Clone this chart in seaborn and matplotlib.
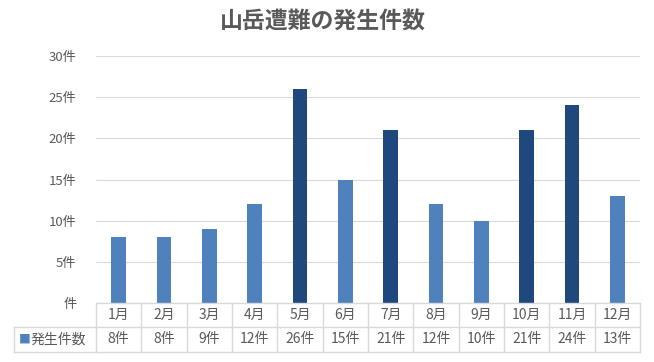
import matplotlib
matplotlib.use("Agg")
import matplotlib.pyplot as plt
import matplotlib.transforms as mtransforms
import seaborn as sns
import pandas as pd

months = ["1月", "2月", "3月", "4月", "5月", "6月", "7月", "8月", "9月", "10月", "11月", "12月"]
counts = [8, 8, 9, 12, 26, 15, 21, 12, 10, 21, 24, 13]
yticks = [0, 5, 10, 15, 20, 25, 30]
series_name = "発生件数"

light = "#4F81BD"
dark = "#1F497D"
grid_c = "#D9D9D9"
text_c = "#595959"

sns.set_theme(style="white")
plt.rcParams["font.family"] = ["Noto Sans CJK JP", "DejaVu Sans"]

df = pd.DataFrame({"month": months, "count": counts})
colors = [dark if c >= 20 else light for c in counts]

W, H = 654, 362
fig = plt.figure(figsize=(W / 100, H / 100), dpi=100)
left, right, top, bottom = 96, 640, 56, 303
ax = fig.add_axes([left / W, 1 - bottom / H, (right - left) / W, (bottom - top) / H])

sns.barplot(data=df, x="month", y="count", hue="month", palette=colors,
            legend=False, width=0.33, ax=ax, saturation=1, linewidth=0)
ax.set_xlim(-0.5, len(months) - 0.5)
ax.set_ylim(0, 30)
ax.set_yticks(yticks)
ax.set_yticklabels([f"{v}件" if v else "件" for v in yticks], color=text_c, fontsize=9.5)
ax.tick_params(axis="y", length=0, pad=14)
ax.set_xticks([])
ax.set_xlabel("")
ax.set_ylabel("")
for s in ax.spines.values():
    s.set_visible(False)
ax.yaxis.grid(True, color=grid_c, linewidth=0.8)
ax.set_axisbelow(True)

fig.text(0.494, 1 - 22 / H, "山岳遭難の発生件数", ha="center", va="center",
         fontsize=16.5, fontweight="bold", color=text_c)

# data table under the plot
tr = mtransforms.blended_transform_factory(ax.transData, ax.transAxes)
ph = bottom - top
r1 = -24 / ph
r2 = -49 / ph
n = len(months)
lw = 1.0
ax.plot([-0.5, n - 0.5], [0, 0], transform=tr, color=grid_c, lw=lw, clip_on=False)
for yy in (r1, r2):
    ax.plot([-0.5, n - 0.5], [yy, yy], transform=tr, color=grid_c, lw=lw, clip_on=False)
for i in range(n + 1):
    ax.plot([i - 0.5, i - 0.5], [0, r2], transform=tr, color=grid_c, lw=lw, clip_on=False)
xl = (14 - left) / (right - left)
ax.plot([xl, 0], [r1, r1], transform=ax.transAxes, color=grid_c, lw=lw, clip_on=False)
ax.plot([xl, 0], [r2, r2], transform=ax.transAxes, color=grid_c, lw=lw, clip_on=False)
ax.plot([xl, xl], [r1, r2], transform=ax.transAxes, color=grid_c, lw=lw, clip_on=False)
for i, (m, c) in enumerate(zip(months, counts)):
    ax.text(i, r1 / 2, m, transform=tr, ha="center", va="center", fontsize=10, color=text_c)
    ax.text(i, (r1 + r2) / 2, f"{c}件", transform=tr, ha="center", va="center",
            fontsize=10, color=text_c)
ax.text(xl + 5 / (right - left), (r1 + r2) / 2, "■", transform=ax.transAxes,
        ha="left", va="center", fontsize=8.5, color=light)
ax.text(xl + 17 / (right - left), (r1 + r2) / 2, series_name, transform=ax.transAxes,
        ha="left", va="center", fontsize=10, color=text_c)

fig.savefig("out.png", dpi=100)
